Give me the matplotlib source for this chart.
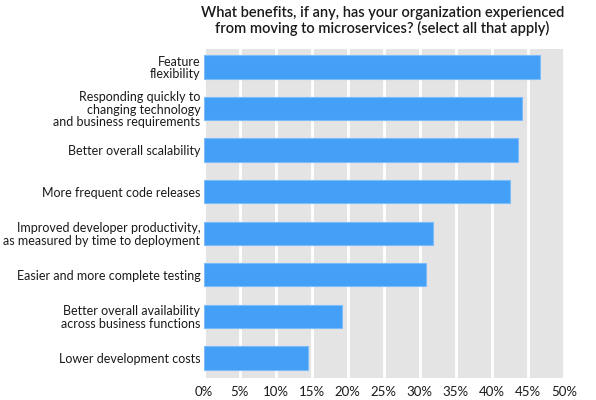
import matplotlib.pyplot as plt

plt.rcParams['font.family'] = ['Lato', 'DejaVu Sans']

categories = [
    "Feature\nflexibility",
    "Responding quickly to\nchanging technology\nand business requirements",
    "Better overall scalability",
    "More frequent code releases",
    "Improved developer productivity,\nas measured by time to deployment",
    "Easier and more complete testing",
    "Better overall availability\nacross business functions",
    "Lower development costs",
]
values = [46.7, 44.2, 43.6, 42.5, 31.8, 30.9, 19.2, 14.4]
ticks = list(range(0, 51, 5))
tick_labels = [f"{t}%" for t in ticks]

title = ("What benefits, if any, has your organization experienced\n"
         "from moving to microservices? (select all that apply)")

fig = plt.figure(figsize=(5.96, 4.0), dpi=100)
ax = fig.add_axes([0.342, 0.055, 0.604, 0.8225])
ax.set_facecolor('#e4e4e4')

pos = list(range(len(categories)))
ax.barh(pos, values, height=0.56, color='#449ff6', edgecolor='#7cbcf8', linewidth=0.8, zorder=3)

ax.set_xlim(0, 50)
ax.set_ylim(7.48, -0.43)
ax.set_xticks(ticks)
ax.set_xticklabels(tick_labels, fontsize=9.5, color='#1a1a1a')
ax.set_yticks(pos)
ax.set_yticklabels(categories, fontsize=9.0, color='#1a1a1a', linespacing=1.05)
ax.tick_params(length=0, pad=2.5)
ax.tick_params(axis='x', pad=6)
ax.grid(axis='x', color='white', linewidth=2, zorder=1)
ax.set_axisbelow(True)
for s in ax.spines.values():
    s.set_visible(False)

fig.text(0.642, 0.985, title, ha='center', va='top', fontsize=10.5,
         fontweight='semibold', color='#1a1a1a', linespacing=1.05)

plt.savefig("out.png", dpi=100)
